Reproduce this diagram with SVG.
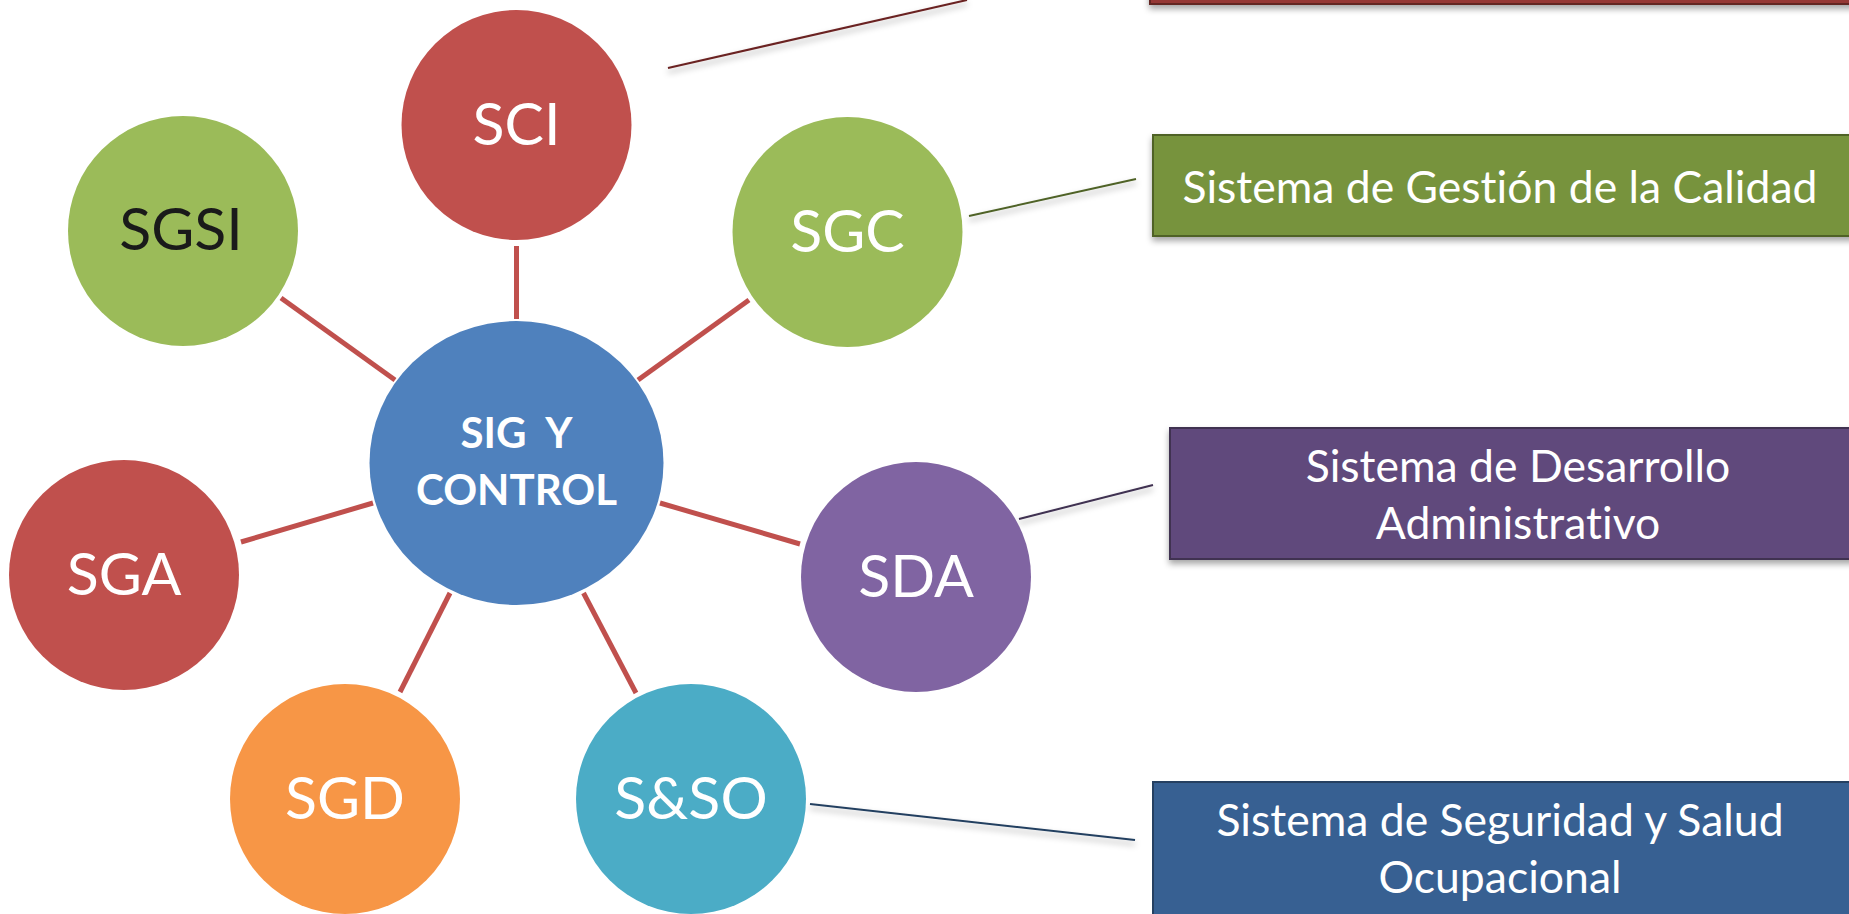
<svg xmlns="http://www.w3.org/2000/svg" width="1849" height="914" viewBox="0 0 1849 914">
<defs>
<filter id="sh" x="-10%" y="-10%" width="120%" height="140%">
<feDropShadow dx="0" dy="4" stdDeviation="3" flood-color="#000" flood-opacity="0.35"/>
</filter>
<style>
text{font-variant-ligatures:none}
.lbl{font-family:Lato,"Open Sans","Liberation Sans",sans-serif;font-size:59px;fill:#fff;text-anchor:middle}
.ctr{font-family:Lato,"Open Sans","Liberation Sans",sans-serif;font-size:42px;font-weight:bold;fill:#fff;text-anchor:middle;white-space:pre}
.box{font-family:Lato,"Open Sans","Liberation Sans",sans-serif;font-size:44.5px;fill:#fff;text-anchor:middle}
.spoke{stroke:#C0504D;stroke-width:5;fill:none}
.thin{stroke-width:2;fill:none}
</style>
</defs>
<rect width="1849" height="914" fill="#fff"/>
<g id="connectors">
<line class="spoke" x1="516.5" y1="246" x2="516.5" y2="319"/>
<line class="spoke" x1="281" y1="298" x2="395" y2="380"/>
<line class="spoke" x1="749" y1="300" x2="638" y2="380"/>
<line class="spoke" x1="241" y1="542" x2="373" y2="503"/>
<line class="spoke" x1="660" y1="503" x2="800" y2="544"/>
<line class="spoke" x1="450" y1="593" x2="400" y2="692"/>
<line class="spoke" x1="583.5" y1="593" x2="636" y2="693"/>
<g filter="url(#sh)">
<line class="thin" stroke="#6B2422" x1="668" y1="68" x2="967" y2="0"/>
<line class="thin" stroke="#4F6228" x1="969" y1="216" x2="1136" y2="179"/>
<line class="thin" stroke="#3F3151" x1="1019" y1="519" x2="1153" y2="485"/>
<line class="thin" stroke="#243F60" x1="810" y1="804" x2="1135" y2="840"/>
</g>
</g>
<g id="box-top"><rect x="1150" y="-100" width="720" height="104" fill="#953735" stroke="#632523" stroke-width="2" filter="url(#sh)"/></g>
<g id="box-sgc"><rect x="1153" y="135" width="710" height="101" fill="#77933C" stroke="#4F6228" stroke-width="2" filter="url(#sh)"/>
<text class="box" x="1500" y="203">Sistema de Gestión de la Calidad</text></g>
<g id="box-sda"><rect x="1170" y="428" width="710" height="131" fill="#604A7B" stroke="#3F3151" stroke-width="2" filter="url(#sh)"/>
<text class="box" x="1518" y="482">Sistema de Desarrollo</text>
<text class="box" x="1518" y="539">Administrativo</text></g>
<g id="box-sso"><rect x="1153" y="782" width="710" height="150" fill="#376092" stroke="#254061" stroke-width="2"/>
<text class="box" x="1500" y="836">Sistema de Seguridad y Salud</text>
<text class="box" x="1500" y="893">Ocupacional</text></g>
<g id="node-center"><ellipse cx="516.5" cy="463" rx="147" ry="142" fill="#4F81BD"/>
<text class="ctr" x="516.5" y="448">SIG  Y</text>
<text class="ctr" x="516.5" y="505">CONTROL</text></g>
<g id="node-sci"><circle cx="516.5" cy="125" r="115" fill="#C0504D"/><text class="lbl" x="516.5" y="145">SCI</text></g>
<g id="node-sgsi"><circle cx="183" cy="231" r="115" fill="#9BBB59"/><text class="lbl" x="181" y="250" style="fill:#1a1a1a">SGSI</text></g>
<g id="node-sgc"><circle cx="847.5" cy="232" r="115" fill="#9BBB59"/><text class="lbl" x="847.5" y="252">SGC</text></g>
<g id="node-sga"><circle cx="124" cy="575" r="115" fill="#C0504D"/><text class="lbl" x="124" y="595">SGA</text></g>
<g id="node-sda"><circle cx="916" cy="577" r="115" fill="#8064A2"/><text class="lbl" x="916" y="597">SDA</text></g>
<g id="node-sgd"><circle cx="345" cy="799" r="115" fill="#F79646"/><text class="lbl" x="345" y="819">SGD</text></g>
<g id="node-sso"><circle cx="691" cy="799" r="115" fill="#4BACC6"/><text class="lbl" x="691" y="819">S&amp;SO</text></g>
</svg>
